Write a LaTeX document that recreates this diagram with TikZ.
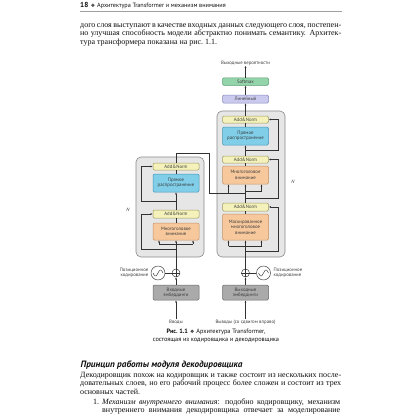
\documentclass[tikz,border=0pt]{standalone}
\usepackage{fontspec}
\setmainfont{Liberation Serif}
\setsansfont{PT Sans}
\newfontfamily\ornfont{DejaVu Sans}
\usetikzlibrary{arrows.meta,calc}
\definecolor{NormFill}{RGB}{244,242,186}
\definecolor{NormEdge}{RGB}{160,156,96}
\definecolor{FeedFill}{RGB}{128,206,232}
\definecolor{FeedEdge}{RGB}{70,150,182}
\definecolor{AttnFill}{RGB}{247,200,156}
\definecolor{AttnEdge}{RGB}{196,146,100}
\definecolor{LinFill}{RGB}{202,202,238}
\definecolor{LinEdge}{RGB}{136,136,190}
\definecolor{SoftFill}{RGB}{148,212,170}
\definecolor{SoftEdge}{RGB}{86,158,112}
\definecolor{EmbFill}{RGB}{170,170,170}
\definecolor{EmbEdge}{RGB}{105,105,105}
\definecolor{BlockFill}{RGB}{230,230,230}
\definecolor{BlockEdge}{RGB}{138,138,138}
\definecolor{WireGray}{RGB}{50,50,50}
\definecolor{LabelText}{RGB}{60,60,60}
\definecolor{RuleGray}{RGB}{160,160,160}
\definecolor{PageText}{RGB}{15,15,15}
\newcommand\diagfont{\sffamily\fontsize{4.8}{5.4}\selectfont}
\newcommand\bodyfont{\fontsize{8}{8.2}\selectfont}
\newcommand\bodyline[1]{\makebox[261pt][s]{#1}}
\newcommand\itemline[1]{\makebox[238pt][s]{#1}}

\begin{document}
\begin{tikzpicture}[x=1pt,y=-1pt,
    blk/.style={draw=BlockEdge,fill=BlockFill,rounded corners=5pt,line width=0.6pt,
      minimum width=68pt,inner sep=0pt},
    unit/.style={draw,rounded corners=1.2pt,minimum width=46pt,inner sep=0pt,
      align=center,font=\diagfont,text=LabelText,line width=0.5pt},
    normbox/.style={unit,fill=NormFill,draw=NormEdge,minimum height=7.5pt},
    feedbox/.style={unit,fill=FeedFill,draw=FeedEdge,minimum height=18pt},
    attnbox/.style={unit,fill=AttnFill,draw=AttnEdge,minimum height=18pt},
    embbox/.style={unit,fill=EmbFill,draw=EmbEdge,minimum height=15pt},
    lbl/.style={inner sep=0.5pt,font=\diagfont,text=LabelText},
    wire/.style={draw=WireGray,line width=0.45pt},
    arrowline/.style={wire,-{Latex[length=2.2pt,width=2pt]}},
    ring/.style={circle,draw=WireGray,line width=0.45pt,inner sep=0pt},
    textline/.style={anchor=base west,inner sep=0pt,text=PageText},
    caption/.style={inner sep=0pt,font=\sffamily\fontsize{6.3}{7}\selectfont,text=PageText}]
  \fill[white] (0,0) rectangle (420,420);
  \useasboundingbox (0,0) rectangle (420,420);

  % running head
  \node[textline,font=\sffamily\fontsize{6.2}{7}\selectfont] (runHead) at (80,7.8)
    {{\bfseries\fontsize{7.2}{8}\selectfont 18}\hspace{2.5pt}{\ornfont\fontsize{4.8}{6}\selectfont ❖}\hspace{2pt}Архитектура Transformer и механизм внимания};
  \coordinate (ruleL) at (80,11.5);
  \coordinate (ruleR) at (342,11.5);
  \draw[RuleGray,line width=1.6pt] (ruleL) -- (ruleR);

  \node[textline,font=\bodyfont] (bodyA) at (80,27.8) {\bodyline{дого слоя выступают в качестве входных данных следующего слоя, постепен-}};
  \node[textline,font=\bodyfont] (bodyB) at (80,36) {\bodyline{но улучшая способность модели абстрактно понимать семантику. Архитек-}};
  \node[textline,font=\bodyfont] (bodyC) at (80,44.2) {тура трансформера показана на рис.~1.1.};

  % blocks
  \node[blk,minimum height=100pt] (encBlock) at (170,207) {};
  \node[blk,minimum height=146pt] (decBlock) at (251,184) {};
  \node[lbl,font=\diagfont\itshape] (encN) at (128,210) {N};
  \node[lbl,font=\diagfont\itshape] (decN) at (293,182) {N};

  % encoder
  \node[normbox,minimum height=7pt] (encNormB) at (176,166.5) {Add\&Norm};
  \node[feedbox] (encFF) at (176,183) {Прямое\\распространение};
  \node[normbox,minimum height=8pt] (encNormA) at (176,214) {Add\&Norm};
  \node[attnbox,minimum height=17pt] (encMHA) at (176,231.5) {Многоголовое\\внимание};
  \node[ring,minimum size=8pt] (encPlus) at (176,273) {};
  \node[ring,minimum size=14pt] (encWave) at (158,273) {};
  \node[lbl,anchor=east,align=right] (encPos) at (149,272.5) {Позиционное\\кодирование};
  \node[embbox] (encEmbed) at (176,292.5) {Входные\\эмбеддинги};
  \node[lbl] (encIn) at (176,322) {Вводы};

  % decoder
  \node[lbl] (outProb) at (245.5,63) {Выходные вероятности};
  \node[unit,fill=SoftFill,draw=SoftEdge,minimum height=7.5pt] (decSoftmax) at (245.5,81.5) {Softmax};
  \node[unit,fill=LinFill,draw=LinEdge,minimum height=8pt] (decLinear) at (245.5,99) {Линейный};
  \node[normbox,minimum height=7pt] (decNormC) at (245.5,119.5) {Add\&Norm};
  \node[feedbox] (decFF) at (245.5,136) {Прямое\\распространение};
  \node[normbox,minimum height=7pt] (decNormB) at (245.5,159.5) {Add\&Norm};
  \node[attnbox] (decMHA) at (245.5,175) {Многоголовое\\внимание};
  \node[normbox,minimum height=8pt] (decNormA) at (245.5,207) {Add\&Norm};
  \node[attnbox,minimum height=26pt] (decMasked) at (245.5,227) {Маскированное\\многоголовое\\внимание};
  \node[ring,minimum size=8pt] (decPlus) at (245.5,273) {};
  \node[ring,minimum size=14pt] (decWave) at (263.5,273) {};
  \node[lbl,anchor=west,align=left] (decPos) at (273,272.5) {Позиционное\\кодирование};
  \node[embbox] (decEmbed) at (245.5,292.5) {Выходные\\эмбеддинги};
  \node[lbl] (decIn) at (245.5,322) {Выводы (со сдвигом вправо)};

  % plus signs and waves
  \foreach \p in {encPlus,decPlus}
    \draw[wire] (\p.north) -- (\p.south) (\p.west) -- (\p.east);
  \foreach \w in {encWave,decWave}
    \draw[wire,shift={(\w.center)}] plot[domain=-5:5,samples=40,smooth] (\x,{-3*sin(\x*36)});

  % encoder wiring
  \draw[arrowline] (encIn) -- (encEmbed);
  \draw[arrowline] (encEmbed) -- (encPlus);
  \draw[wire] (encWave) -- (encPlus);
  \coordinate (encBar) at ($(encMHA.south)+(0,3.5)$);
  \draw[wire] (encPlus.north) -- (encBar);
  \draw[wire] ($(encBar)+(-17,0)$) -- ($(encBar)+(17,0)$);
  \foreach \dx in {-17,0,17}
    \draw[arrowline] ($(encBar)+(\dx,0)$) -- ($(encMHA.south)+(\dx,0)$);
  \draw[arrowline] ($(encMHA.south)+(0,9)$) -| ($(encNormA.west)+(-12,0)$) -- (encNormA.west);
  \draw[wire] (encMHA) -- (encNormA);
  \draw[arrowline] (encNormA) -- (encFF);
  \draw[arrowline] ($(encNormA.north)!0.5!(encFF.south)$) -| ($(encNormB.west)+(-12,0)$) -- (encNormB.west);
  \draw[wire] (encFF) -- (encNormB);

  % encoder output into the decoder
  \coordinate (encHop) at (209,153);
  \coordinate (kvBar) at ($(decMHA.south)+(0,9)$);
  \draw[wire] (encNormB.north) |- (encHop) |- (kvBar);
  \draw[arrowline] ($(kvBar)+(-17,0)$) -- ($(decMHA.south)+(-17,0)$);
  \draw[arrowline] (kvBar) -- (decMHA.south);

  % decoder wiring
  \draw[arrowline] (decIn) -- (decEmbed);
  \draw[arrowline] (decEmbed) -- (decPlus);
  \draw[wire] (decWave) -- (decPlus);
  \coordinate (decBar) at ($(decMasked.south)+(0,6)$);
  \draw[wire] (decPlus.north) -- (decBar);
  \draw[wire] ($(decBar)+(-17,0)$) -- ($(decBar)+(16,0)$);
  \foreach \dx in {-17,0,16}
    \draw[arrowline] ($(decBar)+(\dx,0)$) -- ($(decMasked.south)+(\dx,0)$);
  \draw[arrowline] ($(decMasked.south)+(0,11)$) -| ($(decNormA.east)+(9,0)$) -- (decNormA.east);
  \draw[wire] (decMasked) -- (decNormA);
  \draw[arrowline] (decNormA.north) |- ($(decMHA.south)+(16,7)$) -- ($(decMHA.south)+(16,0)$);
  \draw[arrowline] ($(decNormA.north)+(0,-5)$) -| ($(decNormB.east)+(9,0)$) -- (decNormB.east);
  \draw[wire] (decMHA) -- (decNormB);
  \draw[arrowline] (decNormB) -- (decFF);
  \draw[arrowline] ($(decNormB.north)!0.5!(decFF.south)$) -| ($(decNormC.east)+(9,0)$) -- (decNormC.east);
  \draw[wire] (decFF) -- (decNormC);
  \draw[arrowline] (decNormC) -- (decLinear);
  \draw[arrowline] (decLinear) -- (decSoftmax);
  \draw[arrowline] (decSoftmax) -- (outProb);

  % caption
  \node[caption] (figCapA) at (216,332)
    {{\bfseries Рис.~1.1}\hspace{2pt}{\ornfont\fontsize{4.8}{6}\selectfont ❖}\hspace{2pt}Архитектура Transformer,};
  \node[caption] (figCapB) at (216,340.5) {состоящая из кодировщика и декодировщика};

  % next section
  \node[textline,font=\sffamily\bfseries\itshape\fontsize{9.2}{10}\selectfont] (secHead) at (80.5,367) {Принцип работы модуля декодировщика};
  \node[textline,font=\bodyfont] (bodyD) at (80,377.8) {\bodyline{Декодировщик похож на кодировщик и также состоит из нескольких после-}};
  \node[textline,font=\bodyfont] (bodyE) at (80,385.9) {\bodyline{довательных слоев, но его рабочий процесс более сложен и состоит из трех}};
  \node[textline,font=\bodyfont] (bodyF) at (80,394) {основных частей.};
  \node[textline,font=\bodyfont] (itemNum) at (93,404.8) {1.};
  \node[textline,font=\bodyfont] (itemA) at (102,404.8) {\itemline{\textit{Механизм внутреннего внимания}: подобно кодировщику, механизм}};
  \node[textline,font=\bodyfont] (itemB) at (102,412.9) {\itemline{внутреннего внимания декодировщика отвечает за моделирование}};
\end{tikzpicture}
\end{document}
